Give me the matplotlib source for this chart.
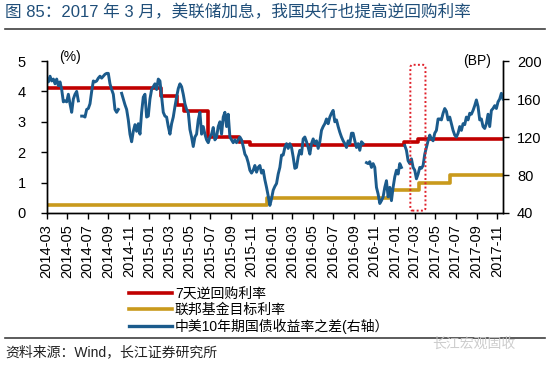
import matplotlib
matplotlib.use('Agg')
import matplotlib.pyplot as plt
import matplotlib.dates as mdates
from matplotlib.lines import Line2D
from matplotlib.patches import FancyBboxPatch
import numpy as np
import pandas as pd

plt.rcParams['font.family'] = ['Liberation Sans', 'Noto Sans CJK SC']

nan = np.nan
start_date = '2014-03-01'
end_date = '2017-11-19'

# 7天逆回购利率 (%), value from each date on
repo_dates = ['2014-03-01', '2015-02-05', '2015-03-25', '2015-04-15', '2015-06-25',
              '2015-09-25', '2015-10-26', '2017-01-28', '2017-03-10']
repo_rate = [4.10, 3.85, 3.55, 3.35, 2.50, 2.35, 2.25, 2.35, 2.45]

# 联邦基金目标利率 (%)
fed_dates = ['2014-03-01', '2015-12-16', '2016-12-14', '2017-03-15', '2017-06-14']
fed_rate = [0.25, 0.50, 0.75, 1.00, 1.25]

# 中美10年期国债收益率之差 (BP), every 5 days
spread_bp = [
    182, 178, 184, 179, 181, 176, 181, 174, 178, 170,
    157, 158, 157, 165, 155, 146, 160, 165, 168, 158,
    nan, 142, 142, 141, 149, 150, 155, 168, 179, 178,
    179, 182, 184, 182, 184, 186, 187, 187, 176, 170,
    165, 149, 146, 149, nan, 166, 160, 154, 149, 138,
    123, 115, 126, 133, 126, 134, 123, 146, 162, 165,
    141, 142, 160, 170, 173, 176, 170, 181, 179, 162,
    146, 142, 141, 131, 123, 134, 141, 152, 162, 171,
    176, 173, 165, 155, 149, 146, 128, 120, 110, 120,
    123, 138, 146, 123, 131, 123, 117, 114, 120, 123,
    130, 117, 120, 131, 136, 123, 141, 146, 131, 144,
    120, 117, 114, 117, 114, 117, 120, 117, 110, 102,
    99, 93, 85, 82, 85, 90, 83, 88, 90, 82,
    85, 75, 67, 58,
    48, 55, 64, 68, 71, 81, 88, 101, 101, 109,
    113, 108, 113, 109, 99, 87, 88, 99, 106, 102,
    118, 120, 115, 109, 102, 113, 118, 113, 116, 108,
    115, 127, 131, 134, 139, 134, 141, 145, 148, 136,
    138, 131, 125, 120, 116, 113, 109, 116, 113, 124,
    124, 116, 109, 113, 106, 115, 113, nan, 93, 92,
    94, 88, 92, 88, 67, 60, 50, 53, 57, 67,
    74, 57, 67, 53, 67, 78, 85, 81, 92, 88,
    nan, 111, 106, 95, 92, 97, 88, 85, 76, 81,
    88, 87, 90, 102, 109, 116, 122, 118, 116, 124,
    127, 139, 139, 138, 145, 150, 147, 138, 141, 134,
    127, 122, 120, 124, 131, 127, 134, 133, 141, 138,
    145, 144, 148, 153, 159, 152, 138, 139, 131, 129,
    134, 144, 131, 148, 150, 153, 150, 157, 160, 166,
    160,
]

legend_labels = ['7天逆回购利率', '联邦基金目标利率', '中美10年期国债收益率之差(右轴）']
title = '图 85：2017 年 3 月，美联储加息，我国央行也提高逆回购利率'
source = '资料来源：Wind，长江证券研究所'

RED = '#c00000'
GOLD = '#c99a1c'
BLUE = '#1b5b8c'

fig = plt.figure(figsize=(5.5, 3.68), dpi=100)
ax = fig.add_axes([0.0849, 0.4212, 0.8297, 0.4130])
ax2 = ax.twinx()

end = pd.Timestamp(end_date)
rx = list(pd.to_datetime(repo_dates)) + [end]
ax.step(rx, repo_rate + [repo_rate[-1]], where='post', color=RED, lw=2.6)
fx = list(pd.to_datetime(fed_dates)) + [end]
ax.step(fx, fed_rate + [fed_rate[-1]], where='post', color=GOLD, lw=2.6)

spread_dates = pd.date_range(start_date, end_date, periods=len(spread_bp))
ax2.plot(spread_dates, spread_bp, color=BLUE, lw=2.1)

# dotted box around March 2017
x0 = mdates.date2num(pd.Timestamp('2017-02-16'))
x1 = mdates.date2num(pd.Timestamp('2017-04-02'))
box = FancyBboxPatch((x0, 42.5), x1 - x0, 153.5,
                     boxstyle='round,pad=0,rounding_size=6', mutation_aspect=0.5,
                     fill=False, edgecolor='#e0202a', linestyle=(0, (1, 1.2)), lw=1.4,
                     zorder=5)
ax2.add_patch(box)

ax.set_xlim(pd.Timestamp(start_date), end)
ax.set_ylim(0, 5)
ax2.set_ylim(40, 200)
ax.set_yticks(range(0, 6))
ax2.set_yticks(range(40, 201, 40))
ax.xaxis.set_major_locator(mdates.MonthLocator(bymonth=[1, 3, 5, 7, 9, 11]))
ax.xaxis.set_major_formatter(mdates.DateFormatter('%Y-%m'))

for a in (ax, ax2):
    a.spines['top'].set_visible(False)
    for s in a.spines.values():
        s.set_linewidth(1.0)
ax.tick_params(axis='x', labelrotation=90, labelsize=10.5, length=4, width=1, pad=4)
ax.tick_params(axis='y', labelsize=10.5, length=4, width=1, pad=11)
ax2.tick_params(axis='y', labelsize=10.5, length=4, width=1, pad=6)

fig.text(70 / 550, 1 - 57 / 368, '(%)', fontsize=10, ha='center', va='center')
fig.text(477 / 550, 1 - 61 / 368, '(BP)', fontsize=10, ha='center', va='center')

handles = [Line2D([], [], color=RED, lw=2.6),
           Line2D([], [], color=GOLD, lw=2.6),
           Line2D([], [], color=BLUE, lw=2.4)]
fig.legend(handles, legend_labels, loc='upper left', bbox_to_anchor=(129 / 550, 1 - 287 / 368),
           frameon=False, fontsize=10, handlelength=3.1, handletextpad=0.2,
           labelspacing=0.12, borderpad=0, borderaxespad=0)

# title, rules and source
fig.text(5 / 550, 1 - 12 / 368, title, fontsize=12, color='#1f4e79', ha='left', va='center')
fig.add_artist(Line2D([5 / 550, 545 / 550], [1 - 29 / 368] * 2, color='#404040', lw=1.2))
fig.add_artist(Line2D([5 / 550, 545 / 550], [1 - 338 / 368] * 2, color='#404040', lw=1.2))
fig.text(5 / 550, 1 - 352 / 368, source, fontsize=10, color='#222222', ha='left', va='center')
fig.text(432 / 550, 1 - 344 / 368, '长江宏观固收', fontsize=10, color='#c8c8c8',
         ha='left', va='center', alpha=0.9)

fig.savefig('out.png', dpi=100)
